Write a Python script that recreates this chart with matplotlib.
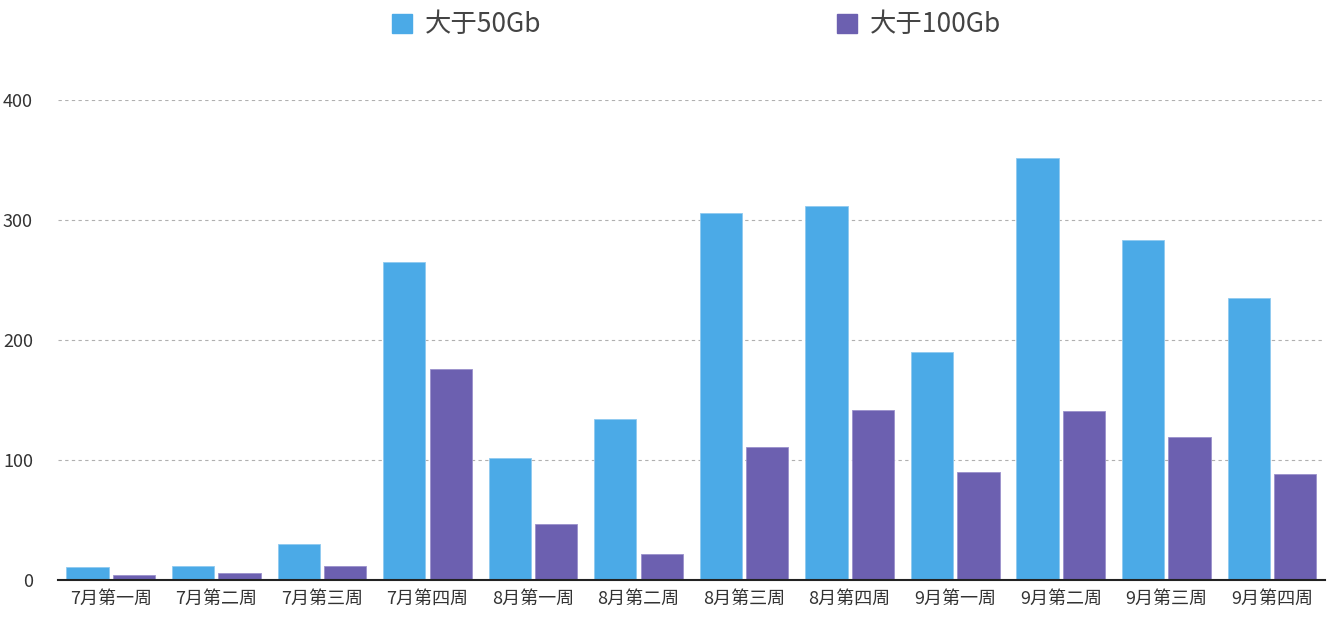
import numpy as np
import matplotlib.pyplot as plt
from matplotlib.patches import Patch

plt.rcParams['font.family'] = ['Noto Sans CJK SC', 'DejaVu Sans']

weeks = ["7月第一周", "7月第二周", "7月第三周", "7月第四周",
         "8月第一周", "8月第二周", "8月第三周", "8月第四周",
         "9月第一周", "9月第二周", "9月第三周", "9月第四周"]
over_50gb = [11, 12, 30, 265, 102, 134, 306, 312, 190, 352, 283, 235]
over_100gb = [4, 6, 12, 176, 47, 22, 111, 142, 90, 141, 119, 88]

blue = "#4BAAE7"
purple = "#6C60B0"

fig = plt.figure(figsize=(13.32, 6.17), dpi=100)
ax = fig.add_axes([0.0435, 0.06, 0.951, 0.778])

x = np.arange(len(weeks))
w = 0.40
ax.bar(x - 0.22, over_50gb, w, color=blue, edgecolor="#8fcaf0", linewidth=0.6, zorder=3)
ax.bar(x + 0.22, over_100gb, w, color=purple, edgecolor="#9a90cc", linewidth=0.6, zorder=3)

ax.set_xlim(-0.5, len(weeks) - 0.5)
ax.set_ylim(0, 400)
ax.set_yticks([0, 100, 200, 300, 400])
ax.set_xticks(x)
ax.set_xticklabels(weeks)
ax.tick_params(axis="both", length=0, labelsize=13, colors="#333333")
ax.tick_params(axis="x", pad=7)
ax.tick_params(axis="y", pad=18)
ax.grid(axis="y", linestyle=(0, (3, 3)), color="#b0b0b0", linewidth=0.8, zorder=0)

for side in ["top", "right", "left"]:
    ax.spines[side].set_visible(False)
ax.spines["bottom"].set_color("#222222")
ax.spines["bottom"].set_linewidth(1.5)
ax.spines["bottom"].set_zorder(4)

handles = [Patch(color=blue, label="大于50Gb"), Patch(color=purple, label="大于100Gb")]
fig.legend(handles=handles, loc="upper center", bbox_to_anchor=(0.523, 1.02),
           ncol=2, frameon=False, fontsize=19, handlelength=0.75, handleheight=0.75,
           handletextpad=0.5, columnspacing=11.2, labelcolor="#444444")

fig.savefig("out.png", dpi=100)
